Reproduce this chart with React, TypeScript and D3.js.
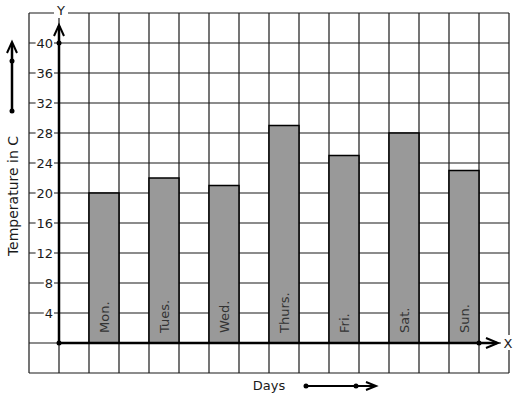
import React from "react";
import * as d3 from "d3";

const days = ["Mon.", "Tues.", "Wed.", "Thurs.", "Fri.", "Sat.", "Sun."];
const temps = [20, 22, 21, 29, 25, 28, 23];
const yTicks = [4, 8, 12, 16, 20, 24, 28, 32, 36, 40];

const W = 517;
const H = 399;
const FONT = "DejaVu Sans, sans-serif";

export default function App() {
  const y = d3.scaleLinear().domain([0, 40]).range([343, 43]);
  const gx = d3.scaleLinear().domain([0, 16]).range([29, 509]);
  const x = d3.scaleBand<string>().domain(days).range([59, 509]).paddingInner(0.5).paddingOuter(0.5);
  const cols = d3.range(0, 17);
  const rows = d3.range(-4, 45, 4);
  const ink = "#1a1a1a";

  return (
    <svg width={W} height={H} style={{ position: "absolute", left: 0, top: 0, background: "#fff" }}>
      <rect x={0} y={0} width={W} height={H} fill="#fff" />
      {cols.map((c) => (
        <line key={"c" + c} x1={gx(c)} x2={gx(c)} y1={y(44)} y2={y(-4)} stroke={ink} strokeWidth={1.2} />
      ))}
      {rows.map((r) => (
        <line key={"r" + r} x1={gx(0)} x2={gx(16)} y1={y(r)} y2={y(r)} stroke={ink} strokeWidth={1.2} />
      ))}
      {days.map((d, i) => (
        <rect key={d} x={x(d)} y={y(temps[i])} width={x.bandwidth()} height={y(0) - y(temps[i])}
          fill="#999" stroke="#000" strokeWidth={1.5} />
      ))}
      {days.map((d) => {
        const cx = (x(d) as number) + x.bandwidth() / 2;
        return (
          <text key={"t" + d} transform={`translate(${cx},${y(0) - 10}) rotate(-90)`} fontFamily={FONT}
            fontSize={13} fill="#333" dominantBaseline="central" textAnchor="start">{d}</text>
        );
      })}
      {yTicks.map((t) => {
        const label = String(t);
        const w = label.length * 8.2;
        return (
          <g key={"y" + t}>
            <rect x={53 - w - 1} y={y(t) - 8} width={w + 2} height={15} fill="#fff" />
            <text x={53} y={y(t)} textAnchor="end" dominantBaseline="central" fontFamily={FONT}
              fontSize={13} fill={ink}>{label}</text>
          </g>
        );
      })}
      <line x1={gx(1)} x2={gx(1)} y1={y(0)} y2={26} stroke="#000" strokeWidth={2.5} />
      <path d={`M${gx(1) - 5},${36} L${gx(1)},${25} L${gx(1) + 5},${36}`} fill="none" stroke="#000" strokeWidth={2} />
      <line x1={gx(1)} x2={497} y1={y(0)} y2={y(0)} stroke="#000" strokeWidth={2.5} />
      <path d={`M${486},${y(0) - 5} L${498},${y(0)} L${486},${y(0) + 5}`} fill="none" stroke="#000" strokeWidth={2} />
      <circle cx={gx(1)} cy={y(0)} r={2.5} fill="#000" />
      <circle cx={gx(1)} cy={y(40)} r={2.5} fill="#000" />
      <circle cx={gx(15)} cy={y(0)} r={2.5} fill="#000" />
      <rect x={54} y={3} width={14} height={15} fill="#fff" />
      <text x={61} y={10} textAnchor="middle" dominantBaseline="central" fontFamily={FONT} fontSize={13} fill={ink}>Y</text>
      <rect x={501} y={335} width={14} height={15} fill="#fff" />
      <text x={508} y={y(0)} textAnchor="middle" dominantBaseline="central" fontFamily={FONT} fontSize={13} fill={ink}>X</text>
      <text transform={`translate(13,196) rotate(-90)`} textAnchor="middle" dominantBaseline="central"
        fontFamily={FONT} fontSize={14} fill={ink}>Temperature in C</text>
      <line x1={12} x2={12} y1={111} y2={44} stroke="#000" strokeWidth={2.5} />
      <path d={`M7,53 L12,42 L17,53`} fill="none" stroke="#000" strokeWidth={2} />
      <circle cx={12} cy={61} r={2.5} fill="#000" />
      <circle cx={12} cy={111} r={2.5} fill="#000" />
      <text x={269} y={385} textAnchor="middle" dominantBaseline="central" fontFamily={FONT} fontSize={13} fill={ink}>Days</text>
      <line x1={306} x2={375} y1={386} y2={386} stroke="#000" strokeWidth={2} />
      <path d={`M366,382 L376,386 L366,390`} fill="none" stroke="#000" strokeWidth={2} />
      <circle cx={306} cy={386} r={2.5} fill="#000" />
      <circle cx={356} cy={386} r={2.5} fill="#000" />
    </svg>
  );
}
